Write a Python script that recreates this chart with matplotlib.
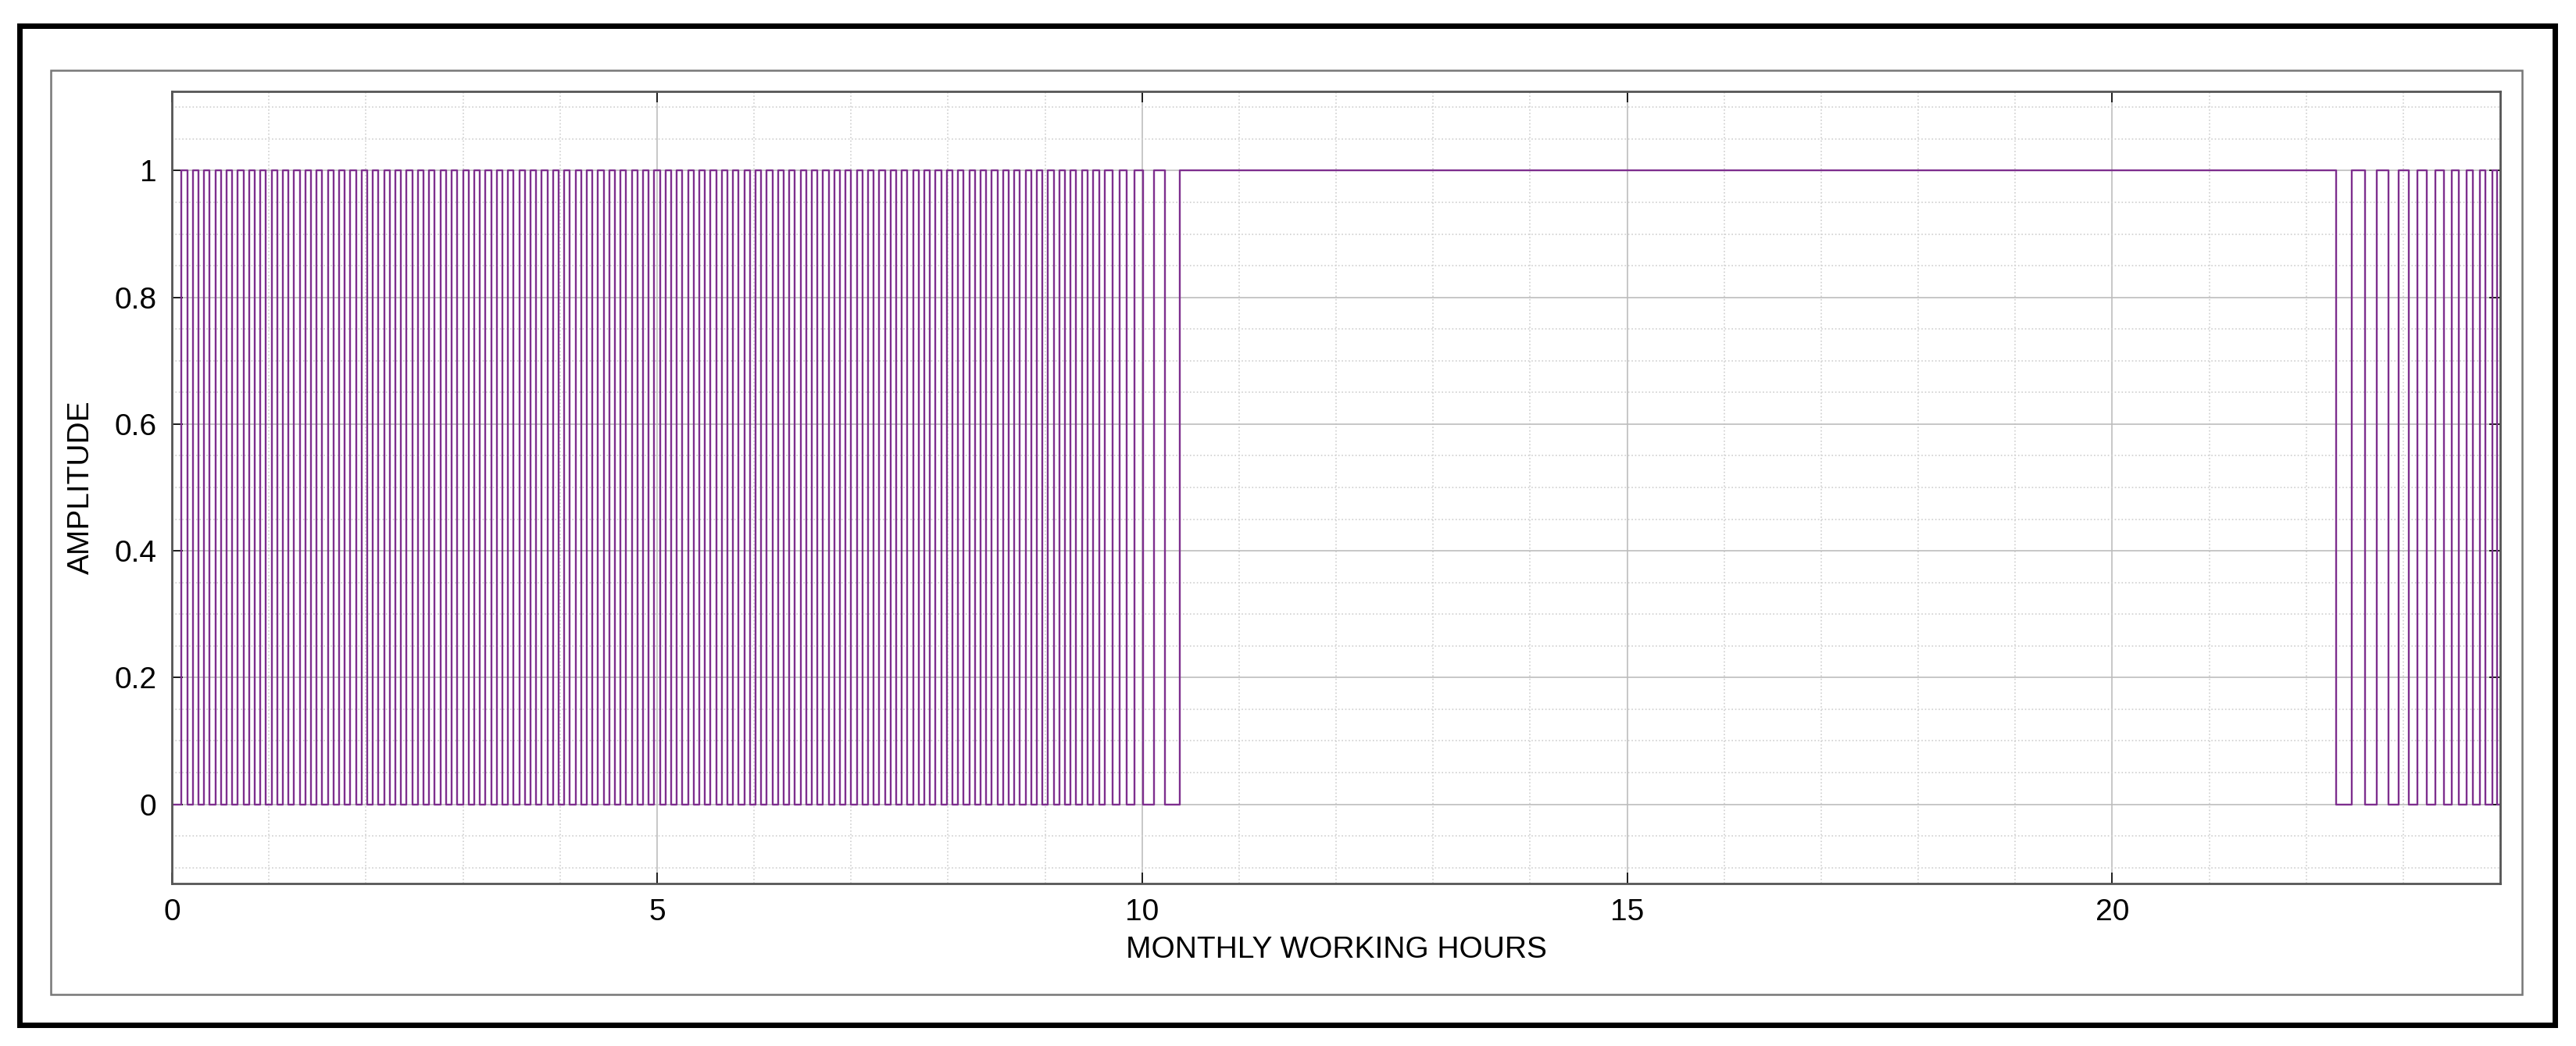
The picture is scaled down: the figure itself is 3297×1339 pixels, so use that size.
import numpy as np
import matplotlib
matplotlib.use("Agg")
import matplotlib.pyplot as plt
from matplotlib.patches import Rectangle
from matplotlib.ticker import MultipleLocator

# ---- data ----
# dense pulse train: segment start, segment end, edge spacing (hours)
dense_start = 0.10
dense_end = 9.50
dense_spacing = 0.058
# sparse edges before the long high period
tail_edges = [9.56, 9.62, 9.70, 9.77, 9.84, 9.92, 10.01, 10.12, 10.24, 10.39]
# edges at the end of the day (pixel positions converted to hours)
end_edges = [22.31, 22.47, 22.61, 22.73, 22.85, 22.95, 23.06, 23.15, 23.24,
             23.33, 23.42, 23.50, 23.57, 23.65, 23.72, 23.79, 23.85, 23.92, 23.97]
x_end = 24.0
x_ticks = [0, 5, 10, 15, 20]
y_ticks = [0, 0.2, 0.4, 0.6, 0.8, 1.0]
y_ticklabels = ["0", "0.2", "0.4", "0.6", "0.8", "1"]

dense_edges = list(np.arange(dense_start, dense_end, dense_spacing))
edges = dense_edges + tail_edges + end_edges

# build step signal: starts at 0, toggles at each edge
xs, ys = [0.0], [0.0]
level = 0.0
for e in edges:
    xs += [e, e]
    ys += [level, 1.0 - level]
    level = 1.0 - level
xs.append(x_end)
ys.append(level)

plt.rcParams['font.family'] = ['Liberation Sans', 'DejaVu Sans']
fig = plt.figure(figsize=(32.97, 13.39), dpi=100)
W, H = 3297, 1339
fig.patches.append(Rectangle((25 / W, 1 - 1312 / H), (3270 - 25) / W, (1312 - 33) / H,
                             transform=fig.transFigure, fill=False, edgecolor='black', linewidth=5))
fig.patches.append(Rectangle((65 / W, 1 - 1273 / H), (3228 - 65) / W, (1273 - 90) / H,
                             transform=fig.transFigure, fill=False, edgecolor='#777777', linewidth=1.8))

ax = fig.add_axes([220 / W, 1 - 1131 / H, (3200 - 220) / W, (1131 - 117) / H])
ax.plot(xs, ys, color='#7E2F8E', linewidth=1.7)
ax.set_xlim(0, 24)
ax.set_ylim(-0.125, 1.125)
ax.set_xticks(x_ticks)
ax.set_yticks(y_ticks)
ax.set_yticklabels(y_ticklabels)
ax.xaxis.set_minor_locator(MultipleLocator(1))
ax.yaxis.set_minor_locator(MultipleLocator(0.05))
ax.grid(True, which='major', color='#bdbdbd', linewidth=1.2)
ax.grid(True, which='minor', color='#d0d0d0', linestyle=':', linewidth=1.2)
ax.set_axisbelow(True)
ax.tick_params(which='both', direction='in', top=True, right=True, labelsize=28, length=10, width=1.2, pad=14)
ax.tick_params(which='minor', length=0)
for s in ax.spines.values():
    s.set_color('#555555')
    s.set_linewidth(2)
ax.set_xlabel("MONTHLY WORKING HOURS", fontsize=28, labelpad=8)
ax.set_ylabel("AMPLITUDE", fontsize=28, labelpad=18)
fig.savefig("out.png", dpi=100, facecolor='white')
